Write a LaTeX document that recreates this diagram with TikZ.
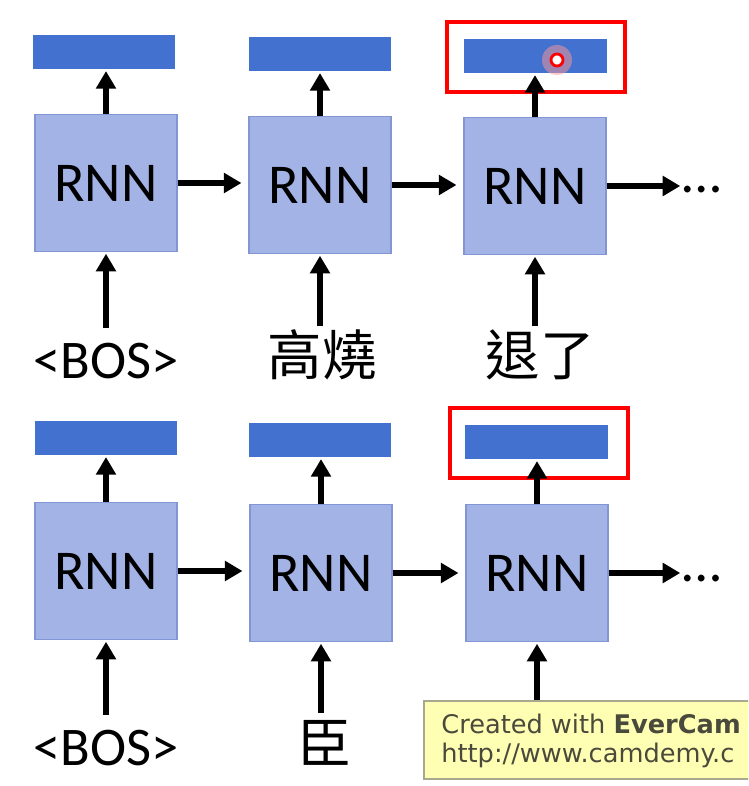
\documentclass[tikz,border=0pt]{standalone}
\usepackage{fontspec}
\setmainfont{Carlito}
\newfontfamily\cjk{Noto Sans CJK TC}
\newfontfamily\tipfont{DejaVu Sans}
\usetikzlibrary{arrows.meta}
\definecolor{rnnfill}{HTML}{A3B3E6}
\definecolor{rnnedge}{HTML}{8295D4}
\definecolor{outblue}{HTML}{4271CF}
\definecolor{tipfill}{HTML}{FFFFB4}
\definecolor{tipedge}{HTML}{A8A890}
\definecolor{tiptext}{HTML}{4A4A3C}
\begin{document}
\begin{tikzpicture}[x=0.02cm, y=-0.02cm,
  rnn/.style={draw=rnnedge, fill=rnnfill, line width=0.6pt, minimum width=2.84cm, minimum height=2.74cm, inner sep=0pt, font=\fontsize{32}{36}\selectfont},
  outbar/.style={fill=outblue, minimum width=2.86cm, minimum height=0.68cm, inner sep=0pt},
  word/.style={anchor=base, inner sep=0pt, text height=1cm, text depth=0.2cm, font=\fontsize{31}{36}\selectfont},
  pick/.style={draw=red, line width=2.4pt, minimum width=3.56cm, minimum height=1.4cm, inner sep=0pt},
  tiptxt/.style={anchor=base west, inner sep=0pt, text=tiptext, font=\tipfont\fontsize{14.6}{17}\selectfont},
  flow/.style={line width=3.2pt, -{Triangle[length=10pt,width=11pt]}, shorten >=1pt}]
\useasboundingbox (0,0) rectangle (748,786);
\clip (0,0) rectangle (748,786);
\fill[white] (0,0) rectangle (748,786);
% first row
\node[outbar] (out1) at (104,52){};
\node[outbar] (out2) at (320,54){};
\node[outbar] (out3) at (535,56){};
\node[pick] (pick1) at (536,57){};
\node[rnn] (rnn1) at (106,183){RNN};
\node[rnn] (rnn2) at (320,185){RNN};
\node[rnn] (rnn3) at (535,186){RNN};
\node[word] (in1) at (106,378){<BOS>};
\node[word] (in2) at (322,376){\cjk 高燒};
\node[word] (in3) at (540,376){\cjk 退了};
\node[anchor=base west, inner sep=0pt, font=\fontsize{32}{36}\selectfont] (more1) at (682,193){…};
\draw[flow](in1.north -| rnn1.south) -- (rnn1.south);
\draw[flow](in2.north -| rnn2.south) -- (rnn2.south);
\draw[flow](in3.north -| rnn3.south) -- (rnn3.south);
\draw[flow](rnn1.north) -- (rnn1.north |- out1.south);
\draw[flow](rnn2.north) -- (rnn2.north |- out2.south);
\draw[flow](rnn3.north) -- (rnn3.north |- out3.south);
\draw[flow, shorten >=4pt](rnn1.east) -- (rnn1.east -| rnn2.west);
\draw[flow, shorten >=4pt](rnn2.east) -- (rnn2.east -| rnn3.west);
\draw[flow](rnn3.east) -- (rnn3.east -| more1.west);
\fill[red!40, opacity=0.5] (557,60) circle (0.3cm);
\draw[red, line width=1.6pt, fill=white] (557,60) circle (0.12cm);
% second row
\node[outbar] (out4) at (106,438){};
\node[outbar] (out5) at (320,440){};
\node[outbar] (out6) at (536,442){};
\node[pick] (pick2) at (539,443){};
\node[rnn] (rnn4) at (106,571){RNN};
\node[rnn] (rnn5) at (321,573){RNN};
\node[rnn] (rnn6) at (537,573){RNN};
\node[word] (in4) at (106,765){<BOS>};
\node[word] (in5) at (325,763){\cjk 臣};
\coordinate (in6) at (537,712);
\node[anchor=base west, inner sep=0pt, font=\fontsize{32}{36}\selectfont] (more2) at (682,581){…};
\draw[flow](in4.north -| rnn4.south) -- (rnn4.south);
\draw[flow](in5.north -| rnn5.south) -- (rnn5.south);
\draw[flow](in6 -| rnn6.south) -- (rnn6.south);
\draw[flow](rnn4.north) -- (rnn4.north |- out4.south);
\draw[flow](rnn5.north) -- (rnn5.north |- out5.south);
\draw[flow](rnn6.north) -- (rnn6.north |- out6.south);
\draw[flow, shorten >=4pt](rnn4.east) -- (rnn4.east -| rnn5.west);
\draw[flow, shorten >=4pt](rnn5.east) -- (rnn5.east -| rnn6.west);
\draw[flow](rnn6.east) -- (rnn6.east -| more2.west);
% tooltip
\node[draw=tipedge, fill=tipfill, line width=1pt, anchor=north west, minimum width=7cm, minimum height=1.56cm, inner sep=0pt] (tip) at (423,700){};
\node[tiptxt] (tip1) at (441,733){Created with \textbf{EverCam}};
\node[tiptxt] (tip2) at (441,762){http://www.camdemy.c};
\end{tikzpicture}
\end{document}
